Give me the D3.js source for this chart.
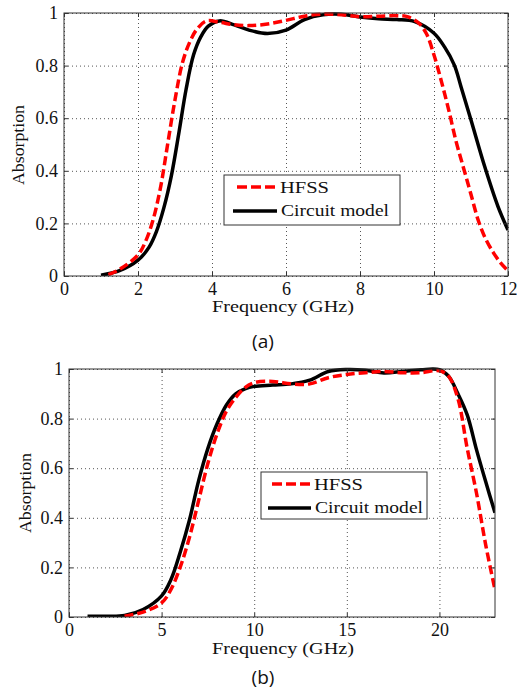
<!DOCTYPE html>
<html>
<head>
<meta charset="utf-8">
<script src="https://cdnjs.cloudflare.com/ajax/libs/d3/7.8.5/d3.min.js"></script>
<style>
  html, body { margin: 0; padding: 0; background: #fff; }
  svg { display: block; }
</style>
</head>
<body>
<svg width="517" height="692"></svg>
<script>
// panel (a): frequency 0-12 GHz
const hfssA = [
  [1.2, 0.005], [1.5, 0.025], [2.0, 0.08], [2.2, 0.13], [2.4, 0.21], [2.6, 0.33], [2.8, 0.50],
  [3.0, 0.67], [3.2, 0.81], [3.4, 0.89], [3.6, 0.94], [3.85, 0.97], [4.2, 0.965], [4.6, 0.955],
  [5.0, 0.952], [5.5, 0.958], [6.0, 0.972], [6.5, 0.988], [7.0, 0.996], [7.5, 0.993], [8.0, 0.986],
  [8.5, 0.988], [9.0, 0.99], [9.3, 0.985], [9.6, 0.96], [9.8, 0.92], [10.0, 0.84], [10.2, 0.74],
  [10.4, 0.63], [10.6, 0.51], [10.8, 0.41], [11.0, 0.31], [11.2, 0.21], [11.4, 0.14], [11.6, 0.09],
  [11.8, 0.05], [12.0, 0.02]
];
const circuitA = [
  [1.0, 0.003], [1.5, 0.02], [2.0, 0.06], [2.3, 0.11], [2.5, 0.17], [2.7, 0.26], [2.9, 0.38],
  [3.1, 0.54], [3.3, 0.71], [3.5, 0.84], [3.7, 0.91], [3.9, 0.95], [4.2, 0.97], [4.6, 0.955],
  [5.0, 0.935], [5.5, 0.922], [6.0, 0.935], [6.5, 0.975], [7.0, 0.993], [7.5, 0.995], [8.0, 0.985],
  [8.5, 0.978], [9.0, 0.975], [9.48, 0.967], [10.0, 0.923], [10.28, 0.872], [10.55, 0.802],
  [10.73, 0.72], [11.0, 0.593], [11.37, 0.416], [11.73, 0.264], [12.0, 0.175]
];
// panel (b): frequency 0-23 GHz
const hfssB = [
  [3.0, 0.003], [4.0, 0.02], [5.0, 0.057], [5.5, 0.11], [6.0, 0.20], [6.5, 0.32], [7.0, 0.47],
  [7.5, 0.62], [8.0, 0.74], [8.5, 0.83], [9.0, 0.885], [9.5, 0.925], [10, 0.945], [11, 0.95],
  [12, 0.94], [13, 0.94], [14, 0.965], [15, 0.978], [16, 0.985], [17, 0.99], [18, 0.985],
  [19, 0.985], [20, 0.993], [20.5, 0.97], [21, 0.88], [21.5, 0.68], [22, 0.50], [22.5, 0.29], [23, 0.11]
];
const circuitB = [
  [1.0, 0.003], [2.0, 0.003], [3.0, 0.006], [4.0, 0.03], [5.0, 0.085], [5.5, 0.15], [6.0, 0.26],
  [6.5, 0.39], [7.0, 0.55], [7.5, 0.68], [8.0, 0.78], [8.5, 0.855], [9.0, 0.90], [9.5, 0.92],
  [10, 0.93], [11, 0.935], [12, 0.94], [13, 0.955], [14, 0.99], [15, 0.998], [16, 0.995],
  [17, 0.984], [18, 0.99], [19, 0.997], [20, 0.997], [20.5, 0.97], [21, 0.90], [21.5, 0.815],
  [22, 0.675], [22.5, 0.545], [23, 0.42]
];
const yTicks = [0, 0.2, 0.4, 0.6, 0.8, 1];
const xTicksA = [0, 2, 4, 6, 8, 10, 12];
const xTicksB = [0, 5, 10, 15, 20];
const seriesNames = ["HFSS", "Circuit model"];

const serif = '"Liberation Serif", "Times New Roman", serif';
const svg = d3.select("svg");

function panel(cfg) {
  const w = cfg.right - cfg.left, h = cfg.bottom - cfg.top;
  const x = d3.scaleLinear().domain(cfg.xDomain).range([cfg.left, cfg.right]);
  const y = d3.scaleLinear().domain([0, 1]).range([cfg.bottom, cfg.top]);
  const g = svg.append("g");

  // dotted grid
  g.append("g").attr("transform", `translate(0,${cfg.bottom})`)
    .call(d3.axisBottom(x).tickValues(cfg.xTicks).tickSize(-h).tickFormat(""))
    .call(s => s.select(".domain").remove())
    .selectAll("line").attr("stroke", "#555").attr("stroke-dasharray", "1,3");
  g.append("g").attr("transform", `translate(${cfg.left},0)`)
    .call(d3.axisLeft(y).tickValues(yTicks).tickSize(-w).tickFormat(""))
    .call(s => s.select(".domain").remove())
    .selectAll("line").attr("stroke", "#555").attr("stroke-dasharray", "1,3");

  // curves
  const clipId = "clip" + cfg.id;
  svg.append("clipPath").attr("id", clipId).append("rect")
    .attr("x", cfg.left).attr("y", cfg.top - 3).attr("width", w).attr("height", h + 3);
  const line = d3.line().x(d => x(d[0])).y(d => y(d[1])).curve(d3.curveCatmullRom.alpha(0.5));
  g.append("path").datum(cfg.circuit).attr("clip-path", `url(#${clipId})`)
    .attr("d", line).attr("fill", "none").attr("stroke", "#000").attr("stroke-width", 3.5);
  g.append("path").datum(cfg.hfss).attr("clip-path", `url(#${clipId})`)
    .attr("d", line).attr("fill", "none").attr("stroke", "#f00").attr("stroke-width", 3.5)
    .attr("stroke-dasharray", "9,4");

  // frame and axes (ticks inward)
  g.append("rect").attr("x", cfg.left).attr("y", cfg.top).attr("width", w).attr("height", h)
    .attr("fill", "none").attr("stroke", "#333").attr("stroke-width", 1);
  const xa = g.append("g").attr("transform", `translate(0,${cfg.bottom})`)
    .call(d3.axisBottom(x).tickValues(cfg.xTicks).tickSize(-4).tickPadding(6).tickFormat(d3.format("d")));
  xa.select(".domain").remove();
  xa.selectAll("line").attr("stroke", "#333");
  const ya = g.append("g").attr("transform", `translate(${cfg.left},0)`)
    .call(d3.axisLeft(y).tickValues(yTicks).tickSize(-4).tickPadding(6).tickFormat(d => d === 0 || d === 1 ? d : d3.format(".1f")(d)));
  ya.select(".domain").remove();
  ya.selectAll("line").attr("stroke", "#333");
  const xt = g.append("g").attr("transform", `translate(0,${cfg.top})`)
    .call(d3.axisTop(x).tickValues(cfg.xTicks).tickSize(-4).tickFormat(""));
  xt.select(".domain").remove();
  xt.selectAll("line").attr("stroke", "#333");
  const yr = g.append("g").attr("transform", `translate(${cfg.right},0)`)
    .call(d3.axisRight(y).tickValues(yTicks).tickSize(-4).tickFormat(""));
  yr.select(".domain").remove();
  yr.selectAll("line").attr("stroke", "#333");
  [xa, ya].forEach(a => a.attr("font-family", serif).attr("font-size", 18)
    .selectAll("text").attr("fill", "#111").style("font-family", serif).style("font-size", "18px"));

  // axis labels
  g.append("text").attr("font-family", serif).attr("fill", "#111").attr("font-size", 17)
    .attr("x", cfg.xLabelX).attr("y", cfg.xLabelY)
    .attr("textLength", 142).attr("lengthAdjust", "spacingAndGlyphs")
    .text("Frequency (GHz)");
  g.append("text").attr("font-family", serif).attr("fill", "#111").attr("font-size", 16)
    .attr("transform", `translate(${cfg.yLabelX},${cfg.yLabelY}) rotate(-90)`)
    .attr("text-anchor", "middle")
    .attr("textLength", 80).attr("lengthAdjust", "spacingAndGlyphs")
    .text("Absorption");

  // legend
  const L = cfg.legend;
  g.append("rect").attr("x", L.x).attr("y", L.y).attr("width", L.w).attr("height", L.h)
    .attr("fill", "#fff").attr("stroke", "#333").attr("stroke-width", 1);
  g.append("line").attr("x1", L.lineX1).attr("x2", L.lineX2).attr("y1", L.y + 12).attr("y2", L.y + 12)
    .attr("stroke", "#f00").attr("stroke-width", 3.5).attr("stroke-dasharray", "10,4");
  g.append("line").attr("x1", L.lineX1 - 4).attr("x2", L.lineX2).attr("y1", L.y + 36).attr("y2", L.y + 36)
    .attr("stroke", "#000").attr("stroke-width", 3.5);
  g.append("text").attr("font-family", serif).attr("fill", "#111").attr("font-size", 16)
    .attr("x", L.lineX2 + 3).attr("y", L.y + 18)
    .attr("textLength", 49).attr("lengthAdjust", "spacingAndGlyphs").text(seriesNames[0]);
  g.append("text").attr("font-family", serif).attr("fill", "#111").attr("font-size", 16)
    .attr("x", L.lineX2 + 4).attr("y", L.y + 41)
    .attr("textLength", 108).attr("lengthAdjust", "spacingAndGlyphs").text(seriesNames[1]);

  // caption
  g.append("text").attr("font-family", '"Open Sans", "Liberation Sans", sans-serif')
    .attr("fill", "#111").attr("font-size", 19)
    .attr("x", cfg.capX).attr("y", cfg.capY).attr("text-anchor", "middle").text(cfg.caption);
}

panel({
  id: "a", left: 64, right: 508, top: 13, bottom: 276, xDomain: [0, 12], xTicks: xTicksA,
  hfss: hfssA, circuit: circuitA,
  xLabelX: 212, xLabelY: 312, yLabelX: 24, yLabelY: 145,
  legend: { x: 224, y: 175, w: 176, h: 50, lineX1: 237, lineX2: 277 },
  caption: "(a)", capX: 263, capY: 348
});
panel({
  id: "b", left: 69, right: 495, top: 369, bottom: 617, xDomain: [0, 23], xTicks: xTicksB,
  hfss: hfssB, circuit: circuitB,
  xLabelX: 212, xLabelY: 654, yLabelX: 31, yLabelY: 493,
  legend: { x: 261, y: 472, w: 166, h: 47, lineX1: 272, lineX2: 311 },
  caption: "(b)", capX: 263, capY: 684
});
</script>
</body>
</html>
